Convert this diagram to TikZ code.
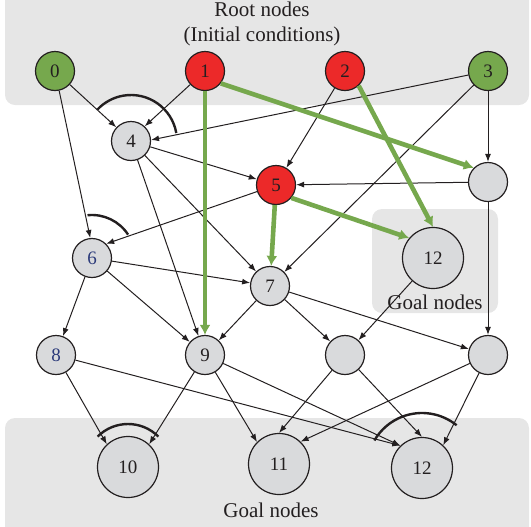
\documentclass[tikz,border=0pt]{standalone}
\usepackage{fontspec}
\setmainfont{Liberation Serif}
\usetikzlibrary{arrows.meta}
\definecolor{rootgreen}{RGB}{118,168,77}
\definecolor{hotred}{RGB}{236,41,41}
\definecolor{nodegrey}{RGB}{217,218,220}
\definecolor{bandgrey}{RGB}{230,230,230}
\definecolor{labelblue}{RGB}{43,58,122}
\definecolor{inkblack}{RGB}{35,31,32}

\begin{document}
\begin{tikzpicture}[x=0.5pt,y=-0.5pt,
			vnode/.style={circle,draw=inkblack,line width=0.6pt,fill=nodegrey,minimum size=19.5pt,inner sep=0pt,
				font=\fontsize{9.5}{11}\selectfont,text=inkblack},
			goalnode/.style={vnode,minimum size=30.5pt},
			rootnode/.style={vnode,fill=rootgreen},
			hotnode/.style={vnode,fill=hotred},
			band/.style={fill=bandgrey,rounded corners=5pt},
			link/.style={draw=inkblack,line width=0.5pt,-{Latex[length=4pt,width=3pt]}},
			greenlink/.style={draw=rootgreen,line width=2.3pt,-{Latex[length=5pt,width=5.5pt]}},
			andarc/.style={draw=inkblack,line width=1.2pt},
			caption/.style={font=\fontsize{10.5}{12.5}\selectfont,text=inkblack,align=center}]
			\clip (0,0) rectangle (531,526);
			\fill[band] (5,-12) rectangle (529,105);
			\fill[band] (372,209) rectangle (498,313);
			\fill[band] (5,418) rectangle (529,540);
			\node (roottext) [caption] at (262,24) {Root nodes\\(Initial conditions)};
			\node (goalmidtext) [caption] at (435,302) {Goal nodes};
			\node (goalbottext) [caption] at (271,510) {Goal nodes};

			\node (n0) [rootnode] at (55,71) {0};
			\node (n1) [hotnode] at (205,71) {1};
			\node (n2) [hotnode] at (345,71) {2};
			\node (n3) [rootnode] at (488,71) {3};
			\node (n4) [vnode] at (131,141) {4};
			\node (n5) [hotnode] at (276,185) {5};
			\node (na) [vnode] at (488,182) {};
			\node (n6) [vnode,text=labelblue] at (92,258) {6};
			\node (n7) [vnode] at (270,286) {7};
			\node (n12m) [goalnode] at (433,258) {12};
			\node (n8) [vnode,text=labelblue] at (56,355) {8};
			\node (n9) [vnode] at (205,355) {9};
			\node (nb) [vnode] at (345,355) {};
			\node (nc) [vnode] at (488,355) {};
			\node (n10) [goalnode] at (128,467) {10};
			\node (n11) [goalnode] at (279,464) {11};
			\node (n12) [goalnode] at (422,468) {12};

			\draw[link] (n0) -- (n4.137);
			\draw[link] (n1) -- (n4.47);
			\draw[link] (n3) -- (n4.3);
			\draw[link] (n0) -- (n6.95);
			\draw[link] (n5) -- (n6.45);
			\draw[link] (n2) -- (n5);
			\draw[link] (n3) -- (na);
			\draw[link] (n3) -- (n7);
			\draw[link] (n4) -- (n5);
			\draw[link] (n4) -- (n7);
			\draw[link] (n4) -- (n9);
			\draw[link] (na) -- (n5);
			\draw[link] (n6) -- (n7);
			\draw[link] (n6) -- (n9);
			\draw[link] (n6) -- (n8);
			\draw[link] (n7) -- (n9);
			\draw[link] (n7) -- (nb);
			\draw[link] (n7) -- (nc);
			\draw[link] (n12m) -- (nb);
			\draw[link] (na) -- (nc);
			\draw[link] (n8) -- (n10.133);
			\draw[link] (n9) -- (n10.47);
			\draw[link] (n8) -- (n12.134);
			\draw[link] (n9) -- (n12.134);
			\draw[link] (n9) -- (n11.135);
			\draw[link] (nb) -- (n11.90);
			\draw[link] (nb) -- (n12.90);
			\draw[link] (nc) -- (n11.46);
			\draw[link] (nc) -- (n12.47);

			\draw[greenlink] (n1) -- (n9);
			\draw[greenlink] (n1.-38) -- (na.135);
			\draw[greenlink] (n2.-47) -- (n12m.90);
			\draw[greenlink] (n5) -- (n7);
			\draw[greenlink] (n5.-40) -- (n12m.140);

			\draw[andarc] ([shift={(10:23pt)}]n4.center) arc[start angle=10,end angle=137,radius=23pt];
			\draw[andarc] ([shift={(33:21.5pt)}]n6.center) arc[start angle=33,end angle=96,radius=21.5pt];
			\draw[andarc] ([shift={(45:21.5pt)}]n10.center) arc[start angle=45,end angle=135,radius=21.5pt];
			\draw[andarc] ([shift={(51:27.5pt)}]n12.center) arc[start angle=51,end angle=150,radius=27.5pt];
		\end{tikzpicture}
\end{document}
